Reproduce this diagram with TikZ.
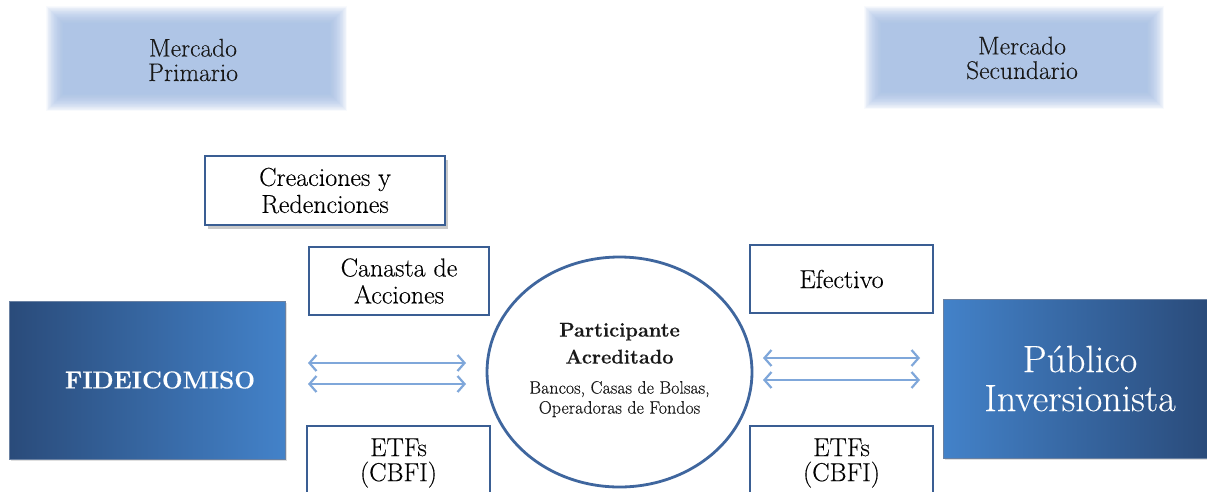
\documentclass[tikz,border=0pt]{standalone}
\usepackage{fontspec}
\setmainfont{Latin Modern Roman}[FakeBold=0.25]
\usetikzlibrary{arrows.meta,shadows,shapes.geometric}
\definecolor{bd}{HTML}{3A5E93}
\definecolor{ell}{HTML}{3F669E}
\definecolor{arr}{HTML}{7FA7DA}
\definecolor{mk}{HTML}{A3BDE6}
\definecolor{dk}{HTML}{2A4B7A}
\definecolor{lt}{HTML}{4382C9}
\tikzset{
  plainbox/.style={draw=bd,line width=1.8pt,fill=white,align=center,inner sep=0pt,
     font=\fontsize{26}{27}\selectfont},
  bigbox/.style={draw=dk!70,line width=0.6pt,align=center,inner sep=0pt,text=white},
  flow/.style={draw=arr,line width=2.8pt,{Straight Barb[length=7pt,width=16pt,line width=2.2pt]}-{Straight Barb[length=7pt,width=16pt,line width=2.2pt]}},
  mtext/.style={align=center,font=\fontsize{25.5}{24.5}\selectfont,text=black!90}
}
\newcommand{\blurbox}[4]{%
  \foreach \i in {0,...,23}{
    \fill[mk,opacity=0.065] (#1+\i*0.75,#2+\i*0.75) rectangle (#3-\i*0.75,#4-\i*0.75);
  }%
}
\begin{document}
\begin{tikzpicture}[x=1pt,y=-1pt]
\useasboundingbox (0,0) rectangle (1207,491);
\fill[white] (0,0) rectangle (1207,491);

% market banners
\blurbox{46}{6}{347}{111}
\blurbox{864}{6}{1164}{109}
\node[mtext] (mp) at (193,60) {Mercado\\Primario};
\node[mtext] (ms) at (1022,58) {Mercado\\Secundario};

% boxes
\node[plainbox,minimum width=240pt,minimum height=69pt,
      drop shadow={shadow xshift=3pt,shadow yshift=-4pt,opacity=0.35,fill=black!60}]
      (cr) at (325,190.5) {Creaciones y\\Redenciones};
\node[plainbox,minimum width=180pt,minimum height=68pt] (can) at (399,281) {Canasta de\\Acciones};
\node[plainbox,minimum width=183pt,minimum height=74pt] (etl) at (398.5,463) {ETFs\\[-2pt](CBFI)};
\node[plainbox,minimum width=183pt,minimum height=68pt] (ef) at (841.5,279) {Efectivo};
\node[plainbox,minimum width=183pt,minimum height=74pt] (etr) at (841.5,463) {ETFs\\[-2pt](CBFI)};

% big boxes
\node[bigbox,left color=dk,right color=lt,minimum width=276pt,minimum height=158pt,
      drop shadow={shadow xshift=1.5pt,shadow yshift=-1.5pt,opacity=0.25},
      font=\bfseries\fontsize{24.5}{27}\selectfont]
      (fid) at (147,380) {\hspace*{26pt}FIDEICOMISO};
\node[bigbox,left color=lt,right color=dk,minimum width=266pt,minimum height=159pt,
      drop shadow={shadow xshift=1.5pt,shadow yshift=-1.5pt,opacity=0.25},
      font=\fontsize{38}{39}\selectfont]
      (pub) at (1076,378.5) {\hspace*{8pt}Público\\\hspace*{8pt}Inversionista};

% ellipse
\node[ellipse,draw=ell,line width=2.8pt,fill=white,minimum width=265pt,minimum height=230pt,inner sep=0pt]
      (pa) at (619.5,372) {};
\node[align=center,text=black!90,font=\fontsize{18}{20}\selectfont] (pat) at (619.5,370) {%
  \bfseries\fontsize{20}{25}\selectfont Participante\\[7pt]
  \bfseries\fontsize{20}{25}\selectfont Acreditado\\[10pt]
  Bancos, Casas de Bolsas,\\Operadoras de Fondos};

% arrows
\coordinate (l1a) at (308,363); \coordinate (l1b) at (466,363);
\coordinate (l2a) at (308,384); \coordinate (l2b) at (466,384);
\coordinate (r1a) at (763,358); \coordinate (r1b) at (920,358);
\coordinate (r2a) at (763,380); \coordinate (r2b) at (920,380);
\draw[flow] (l1a) -- (l1b);
\draw[flow] (l2a) -- (l2b);
\draw[flow] (r1a) -- (r1b);
\draw[flow] (r2a) -- (r2b);
\end{tikzpicture}
\end{document}
